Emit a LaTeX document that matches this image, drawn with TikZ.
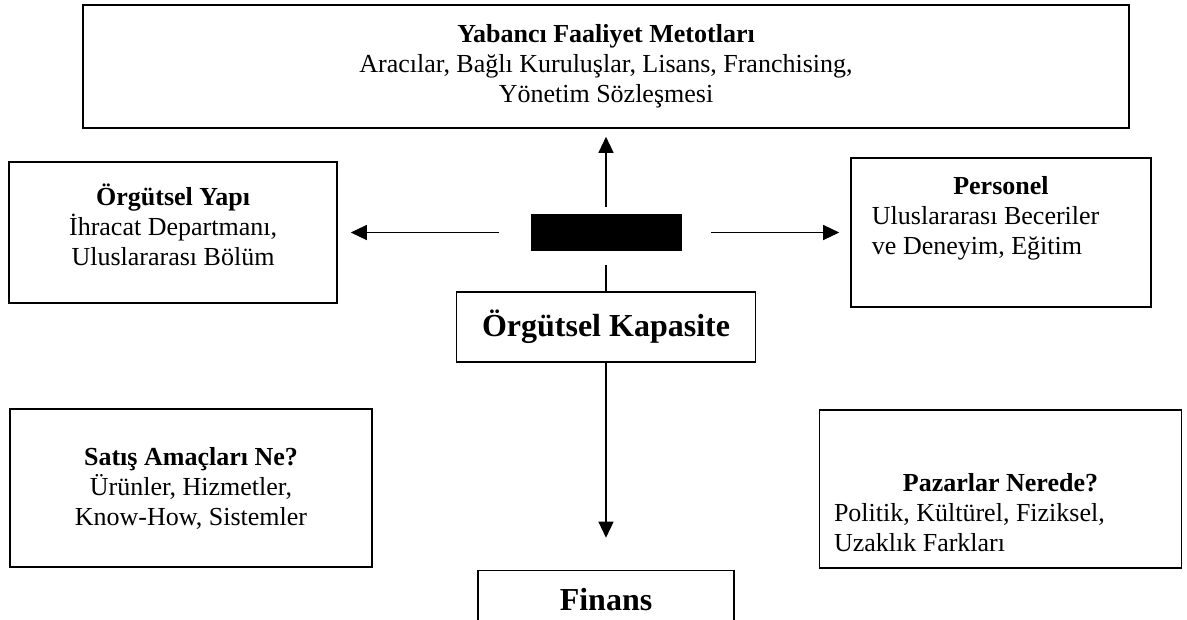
\documentclass[tikz,border=0pt]{standalone}
\usepackage{fontspec}
\setmainfont{Liberation Serif}
\usetikzlibrary{positioning}
\usetikzlibrary{arrows.meta}
\newcommand{\lowstrut}[1]{\rule[-#1]{0pt}{#1}}
\newcommand{\highstrut}[1]{\rule{0pt}{#1}}

\begin{document}
\begin{tikzpicture}[x=1pt, y=-1pt,
    box/.style={draw, line width=1.5pt, inner sep=0pt, align=center,
        font=\fontsize{26}{30}\selectfont},
    bigbox/.style={box, font=\fontsize{32}{38}\selectfont\bfseries},
    arr/.style={line width=1.3pt, -{Triangle[length=16pt,width=15pt]}}]
    \clip (0,0) rectangle (1187,619);
    % centre
    \node(hub) [fill=black, minimum width=151pt, minimum height=37pt, inner sep=0pt] at (606,232.5) {};
    \node(meth) [box, line width=1.8pt, minimum width=1046pt, minimum height=123pt, above=85pt of hub]
        {\textbf{Yabancı Faaliyet Metotları}\\Aracılar, Bağlı Kuruluşlar, Lisans, Franchising,\\Yönetim Sözleşmesi};
    \node(struct) [box, minimum width=328pt, minimum height=141pt, left=192.5pt of hub]
        {\textbf{Örgütsel Yapı}\\İhracat Departmanı,\\Uluslararası Bölüm\lowstrut{16pt}};
    \node(pers) [box, minimum width=300pt, minimum height=149pt, text width=258pt, align=flush left, right=168.5pt of hub]
        {\makebox[258pt]{\textbf{Personel}}\\Uluslararası Beceriler\\ve Deneyim, Eğitim\lowstrut{34pt}};
    \node(cap) [bigbox, minimum width=299pt, minimum height=70pt, below=40pt of hub] {Örgütsel Kapasite};
    \node(fin) [bigbox, minimum width=256pt, minimum height=59pt, below=207pt of cap] {Finans};
    % lower corners
    \node(sale) [box, minimum width=362pt, minimum height=158pt] at (191,488)
        {\textbf{Satış Amaçları Ne?}\\Ürünler, Hizmetler,\\Know-How, Sistemler};
    \node(mark) [box, minimum width=362pt, minimum height=158pt, text width=333pt, align=flush left] at (1000.5,489)
        {\makebox[333pt]{\textbf{Pazarlar Nerede?}\highstrut{65pt}}\\Politik, Kültürel, Fiziksel,\\Uzaklık Farkları};

    \draw[arr, shorten <=7pt, shorten >=8pt] (hub) -- (meth);
    \draw[arr, shorten <=31.5pt, shorten >=13pt] (hub) -- (struct);
    \draw[arr, shorten <=29.5pt, shorten >=11pt] (hub) -- (pers);
    \draw[line width=1.3pt, shorten <=14pt] (hub) -- (cap);
    \draw[arr, shorten >=32pt] (cap) -- (fin);
\end{tikzpicture}
\end{document}
